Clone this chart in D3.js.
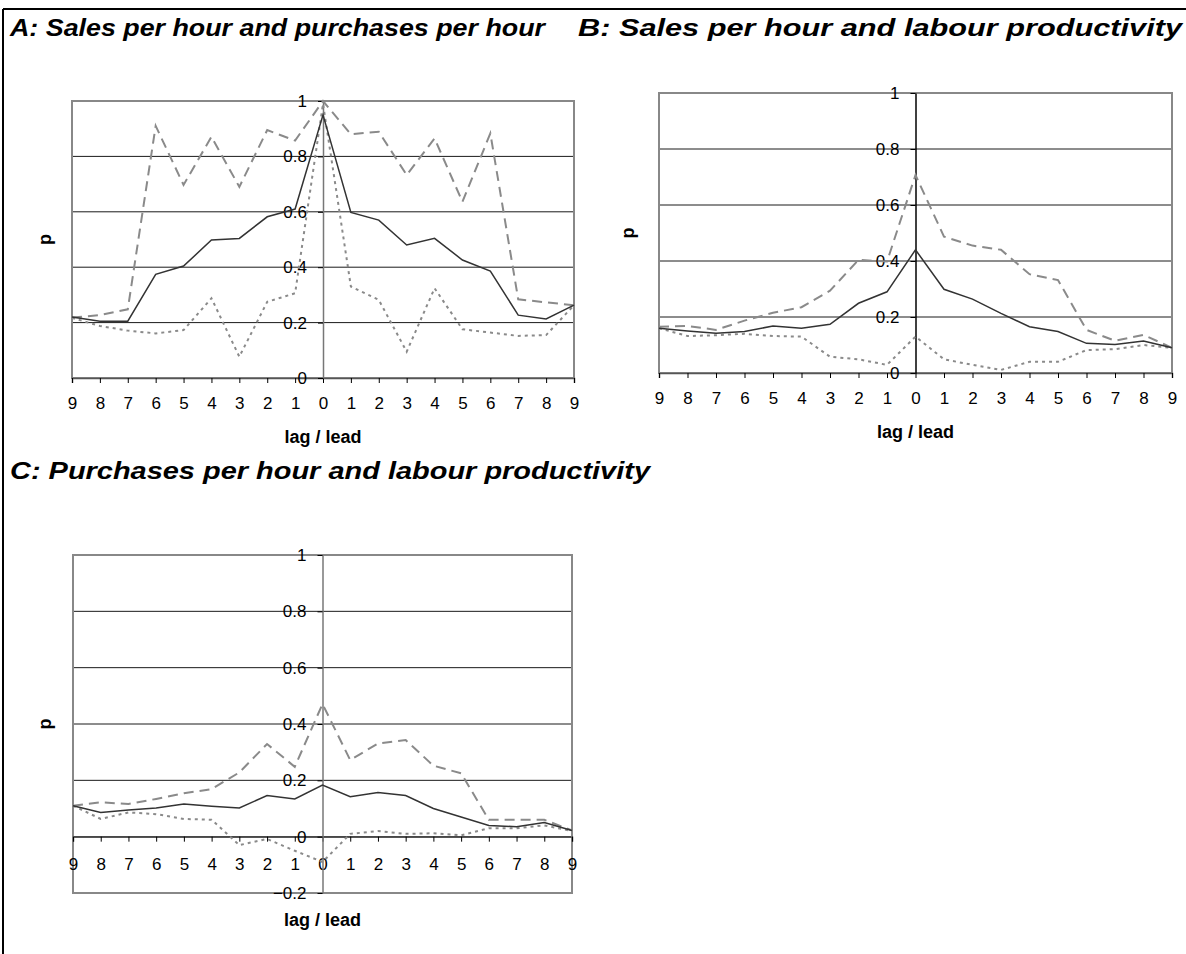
<!DOCTYPE html>
<html>
<head>
<meta charset="utf-8">
<script src="https://cdn.jsdelivr.net/npm/d3@7"></script>
<style>
  body { margin: 0; background: #fff; }
  svg { display: block; font-family: "Liberation Sans", Arial, sans-serif; }
  .title { font-size: 24px; font-weight: bold; font-style: italic; }
  .ax { font-size: 18px; font-weight: bold; }
</style>
</head>
<body>
<div id="chart"></div>
<script>
// lag / lead positions, -9 .. 9
var lags = [-9, -8, -7, -6, -5, -4, -3, -2, -1, 0, 1, 2, 3, 4, 5, 6, 7, 8, 9];
var lagLabels = ["9", "8", "7", "6", "5", "4", "3", "2", "1", "0", "1", "2", "3", "4", "5", "6", "7", "8", "9"];

var yTicksAB = [0, 0.2, 0.4, 0.6, 0.8, 1];
var yTicksC = [-0.2, 0, 0.2, 0.4, 0.6, 0.8, 1];

// A: sales per hour and purchases per hour
var aSolid  = [0.22, 0.205, 0.205, 0.374, 0.404, 0.498, 0.504, 0.582, 0.61, 0.95, 0.598, 0.57, 0.48, 0.504, 0.426, 0.386, 0.227, 0.213, 0.263];
var aDashed = [0.218, 0.227, 0.248, 0.91, 0.697, 0.871, 0.69, 0.895, 0.857, 1.0, 0.88, 0.889, 0.733, 0.865, 0.636, 0.883, 0.284, 0.273, 0.263];
var aDotted = [0.217, 0.188, 0.171, 0.161, 0.173, 0.288, 0.077, 0.275, 0.306, 0.99, 0.33, 0.282, 0.095, 0.324, 0.176, 0.164, 0.152, 0.155, 0.263];

// B: sales per hour and labour productivity
var bSolid  = [0.16, 0.15, 0.142, 0.148, 0.168, 0.16, 0.174, 0.249, 0.29, 0.44, 0.299, 0.264, 0.213, 0.165, 0.148, 0.106, 0.102, 0.114, 0.09];
var bDashed = [0.165, 0.168, 0.154, 0.187, 0.215, 0.235, 0.294, 0.404, 0.398, 0.707, 0.487, 0.455, 0.44, 0.353, 0.332, 0.154, 0.115, 0.136, 0.09];
var bDotted = [0.16, 0.132, 0.135, 0.14, 0.132, 0.13, 0.058, 0.049, 0.029, 0.13, 0.049, 0.029, 0.011, 0.04, 0.04, 0.082, 0.085, 0.1, 0.09];

// C: purchases per hour and labour productivity
var cSolid  = [0.11, 0.086, 0.095, 0.102, 0.116, 0.108, 0.102, 0.146, 0.134, 0.183, 0.142, 0.157, 0.146, 0.1, 0.07, 0.04, 0.035, 0.05, 0.022];
var cDashed = [0.11, 0.122, 0.116, 0.134, 0.154, 0.169, 0.228, 0.329, 0.248, 0.471, 0.272, 0.331, 0.343, 0.252, 0.225, 0.06, 0.06, 0.06, 0.022];
var cDotted = [0.11, 0.063, 0.086, 0.08, 0.063, 0.06, -0.03, -0.008, -0.05, -0.09, 0.01, 0.02, 0.01, 0.012, 0.005, 0.03, 0.03, 0.04, 0.02];

var width = 1186, height = 954;

var svg = d3.select("#chart")
    .append("svg")
    .attr("width", width)
    .attr("height", height);

// outer frame (left and top edges)
svg.append("line").attr("x1", 3).attr("x2", 3).attr("y1", 9).attr("y2", height)
    .attr("stroke", "#000").attr("stroke-width", 2);
svg.append("line").attr("x1", 3).attr("x2", width).attr("y1", 9).attr("y2", 9)
    .attr("stroke", "#000").attr("stroke-width", 2);

/*
TITLES
*/
svg.append("text").attr("class", "title").attr("x", 10).attr("y", 36)
    .attr("textLength", 535).attr("lengthAdjust", "spacingAndGlyphs")
    .text("A:  Sales per hour and purchases per hour");
svg.append("text").attr("class", "title").attr("x", 578).attr("y", 36)
    .attr("textLength", 604).attr("lengthAdjust", "spacingAndGlyphs")
    .text("B:  Sales per hour and labour productivity");
svg.append("text").attr("class", "title").attr("x", 10).attr("y", 479)
    .attr("textLength", 640).attr("lengthAdjust", "spacingAndGlyphs")
    .text("C:  Purchases per hour and labour productivity");

function drawPanel(p) {
    var g = svg.append("g");

    var xScale = d3.scalePoint()
        .domain(lags)
        .range([p.left, p.right]);

    var yScale = d3.scaleLinear()
        .domain(p.yDomain)
        .range([p.bottom, p.top]);

    var x0 = xScale(0);
    var y0 = yScale(0);

    // gridlines (not on the bottom edge)
    g.selectAll(".grid")
        .data(p.yTicks.filter(function(d) { return d > p.yDomain[0]; }))
        .enter()
        .append("line")
        .attr("x1", p.left).attr("x2", p.right)
        .attr("y1", function(d) { return yScale(d); })
        .attr("y2", function(d) { return yScale(d); })
        .attr("stroke", "#1a1a1a")
        .attr("stroke-width", 1);

    // plot frame
    g.append("rect")
        .attr("x", p.left).attr("y", p.top)
        .attr("width", p.right - p.left).attr("height", p.bottom - p.top)
        .attr("fill", "none")
        .attr("stroke", "#888")
        .attr("stroke-width", 2);

    // x axis sits on p = 0
    var xAxis = g.append("g")
        .attr("class", "axis")
        .attr("transform", `translate(0, ${y0})`)
        .call(d3.axisBottom(xScale).tickSize(5).tickPadding(p.xPad)
            .tickFormat(function(d, i) { return lagLabels[i]; }));
    xAxis.select(".domain").attr("stroke", "#555").attr("stroke-width", 1.5);
    xAxis.selectAll(".tick line").attr("stroke", "#000");

    // y axis at lag 0
    var yAxis = g.append("g")
        .attr("class", "axis")
        .attr("transform", `translate(${x0}, 0)`)
        .call(d3.axisLeft(yScale).tickValues(p.yTicks).tickSize(5).tickPadding(11)
            .tickSizeOuter(0).tickFormat(d3.format("")));
    yAxis.select(".domain").attr("stroke", p.axisColor).attr("stroke-width", 1.5);
    yAxis.selectAll(".tick line").attr("stroke", "#000");

    g.selectAll(".axis")
        .attr("font-family", "Liberation Sans, Arial, sans-serif")
        .attr("font-size", 17);
    g.selectAll(".axis text").attr("fill", "#000");

    // axis labels
    g.append("text")
        .attr("class", "ax")
        .attr("x", x0)
        .attr("y", p.xLabelY)
        .attr("text-anchor", "middle")
        .text("lag / lead");

    g.append("text")
        .attr("class", "ax")
        .attr("transform", "rotate(-90)")
        .attr("x", -(p.top + p.bottom) / 2)
        .attr("y", p.pX)
        .attr("text-anchor", "middle")
        .text("p");

    var line = d3.line()
        .x(function(d, i) { return xScale(lags[i]); })
        .y(function(d) { return yScale(d); });

    g.append("path").datum(p.dashed)
        .attr("d", line).attr("fill", "none")
        .attr("stroke", "#8a8a8a").attr("stroke-width", 2)
        .attr("stroke-dasharray", "10,6");

    g.append("path").datum(p.dotted)
        .attr("d", line).attr("fill", "none")
        .attr("stroke", "#8a8a8a").attr("stroke-width", 2)
        .attr("stroke-dasharray", "3,4");

    g.append("path").datum(p.solid)
        .attr("d", line).attr("fill", "none")
        .attr("stroke", "#333").attr("stroke-width", 1.5);
}

drawPanel({
    left: 72, right: 574, top: 101, bottom: 378,
    yDomain: [0, 1], yTicks: yTicksAB, xPad: 14,
    axisColor: "#777", xLabelY: 443, pX: 51,
    solid: aSolid, dashed: aDashed, dotted: aDotted
});

drawPanel({
    left: 659, right: 1172, top: 93, bottom: 373,
    yDomain: [0, 1], yTicks: yTicksAB, xPad: 14,
    axisColor: "#000", xLabelY: 438, pX: 634,
    solid: bSolid, dashed: bDashed, dotted: bDotted
});

drawPanel({
    left: 73, right: 572, top: 555, bottom: 893,
    yDomain: [-0.2, 1], yTicks: yTicksC, xPad: 16,
    axisColor: "#777", xLabelY: 926, pX: 51,
    solid: cSolid, dashed: cDashed, dotted: cDotted
});
</script>
</body>
</html>
